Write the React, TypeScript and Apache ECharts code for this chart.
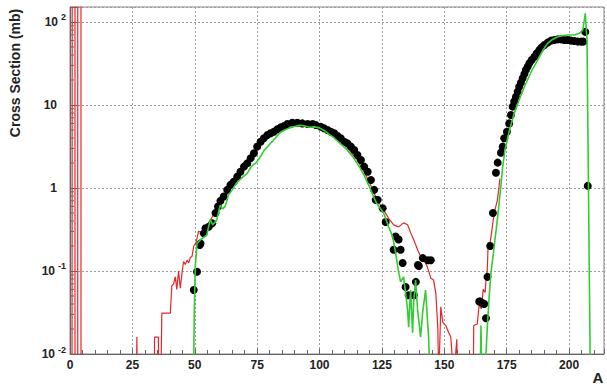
import React, { useEffect, useRef } from "react";
import * as echarts from "echarts";

// ---- data (A, cross section in mb) ----
const DOTS_LIGHT: [number, number][] = [
  [49.6, 0.059], [50.9, 0.098], [52.0, 0.206], [52.3, 0.215], [53.6, 0.284], [54.3, 0.327],
  [55.6, 0.342], [57.0, 0.375], [58.3, 0.5], [59.3, 0.6], [60.3, 0.7], [61.6, 0.79],
  [63.0, 0.95], [64.3, 1.09], [65.6, 1.19], [67.0, 1.37], [68.3, 1.57], [69.7, 1.81],
  [71.0, 1.98], [72.4, 2.28], [73.7, 2.62], [75.0, 3.15], [76.4, 3.61], [77.7, 3.97],
  [79.1, 4.35], [80.4, 4.56], [81.7, 4.77], [83.1, 5.1], [84.4, 5.38], [85.8, 5.58],
  [87.1, 5.9], [89.1, 6.12], [91.1, 6.12], [93.1, 6.0], [95.2, 5.9], [97.2, 5.9],
  [98.5, 5.74], [100.5, 5.48], [101.8, 5.24], [103.2, 5.0], [104.5, 4.77], [105.9, 4.56],
  [107.2, 4.24], [108.5, 3.97], [109.9, 3.61], [111.2, 3.45], [112.6, 3.15], [113.9, 2.87],
  [115.2, 2.5], [116.6, 2.17], [117.9, 1.81], [119.3, 1.57], [120.6, 1.25], [121.9, 0.95],
  [122.5, 0.72], [123.3, 0.72], [125.3, 0.57], [126.5, 0.39], [129.7, 0.18], [130.5, 0.26],
  [131.7, 0.24], [132.5, 0.18], [133.3, 0.125], [134.5, 0.064], [135.7, 0.051], [137.8, 0.051],
  [138.6, 0.074], [139.4, 0.118], [139.8, 0.115], [141.4, 0.143], [143.4, 0.135], [144.6, 0.135],
];

const DOTS_HEAVY: [number, number][] = [
  [164.0, 0.043], [164.4, 0.043], [165.3, 0.041], [166.0, 0.04], [166.7, 0.027], [167.3, 0.085],
  [168.4, 0.2], [169.5, 0.5], [170.7, 1.53], [171.4, 2.02], [172.7, 2.66], [173.4, 3.15],
  [174.0, 3.97], [175.1, 4.77], [176.0, 6.0], [176.7, 7.58], [177.4, 9.55], [178.0, 11],
  [178.7, 12.6], [179.4, 14.5], [180.0, 16.6], [180.7, 18.6], [181.4, 21], [182.1, 23.6],
  [182.7, 26.4], [183.4, 29], [184.1, 31.8], [185.0, 34.8], [186.1, 38.2], [187.0, 41.9],
  [188.1, 46], [189.0, 49.5], [190.1, 52.8], [191.4, 56.4], [192.8, 59.6], [194.1, 60.7],
  [195.5, 61.8], [196.8, 61.8], [198.1, 60.7], [199.5, 60.7], [200.8, 59.6], [202.1, 59],
  [203.5, 58], [204.8, 58], [205.7, 58], [206.5, 76], [207.5, 1.06],
];

const RED_CURVE: [number, number][] = [
  [0, 0.001], [0.8, 0.001], [0.9, 10000], [2.0, 10000], [2.0, 0.001], [3.1, 0.001],
  [3.1, 10000], [4.4, 10000], [4.4, 0.001], [26.4, 0.001], [26.8, 0.016], [27.2, 0.001],
  [33.6, 0.001], [33.9, 0.016], [35.4, 0.016], [35.8, 0.001], [36.4, 0.004], [36.8, 0.031],
  [40.2, 0.031], [40.8, 0.066], [41.5, 0.07], [42.2, 0.085], [42.8, 0.06], [43.5, 0.1],
  [44.2, 0.062], [44.8, 0.09], [45.5, 0.13], [46.2, 0.12], [46.9, 0.135], [47.6, 0.125],
  [48.2, 0.145], [48.9, 0.15], [49.6, 0.2], [50.5, 0.22], [51.5, 0.3], [53, 0.29],
  [55, 0.35], [57, 0.45], [59, 0.58], [61, 0.7], [63, 0.85], [65, 1.05], [67, 1.3],
  [69, 1.6], [71, 1.95], [73, 2.4], [75, 2.9], [77, 3.5], [79, 4.1], [81, 4.6], [83, 5.0],
  [85, 5.4], [87, 5.7], [89, 5.9], [91, 6.0], [93, 6.0], [95, 5.9], [97, 5.7], [99, 5.5],
  [101, 5.2], [103, 4.8], [105, 4.4], [107, 4.0], [109, 3.5], [111, 3.1], [113, 2.6],
  [115, 2.2], [117, 1.75], [119, 1.35], [121, 1.0], [123, 0.72], [125.3, 0.57],
  [127.7, 0.43], [129.7, 0.36], [131.7, 0.34], [133.7, 0.38], [135.3, 0.36], [136.5, 0.29],
  [137.7, 0.24], [139.3, 0.18], [140.5, 0.15], [141.7, 0.14], [143.3, 0.11], [144.6, 0.082],
  [145.7, 0.078], [146.6, 0.054], [147.4, 0.021], [147.8, 0.005], [148.6, 0.037], [149.4, 0.024],
  [150.6, 0.022], [151.8, 0.018], [152.6, 0.016], [153.8, 0.005], [155, 0.015], [155.8, 0.001],
  [161.4, 0.001], [161.8, 0.022], [163.2, 0.023], [164, 0.04], [164.8, 0.035], [165.6, 0.06],
  [166.4, 0.055], [166.8, 0.09], [167.2, 0.1], [167.6, 0.22], [168.2, 0.2], [169, 0.3],
  [170, 0.5], [171.3, 0.72], [172.3, 1.3],
];

const GREEN_CURVE: [number, number][] = [
  [49.4, 0.003], [49.8, 0.03], [50.2, 0.113], [50.9, 0.215], [52.5, 0.24], [54.8, 0.27],
  [56.2, 0.42], [57.2, 0.36], [58.8, 0.41], [60.2, 0.62], [61.2, 0.56], [62.2, 0.6],
  [63.5, 0.82], [65, 0.95], [66.5, 1.12], [68, 1.25], [69.5, 1.38], [71, 1.5], [72.5, 1.78],
  [73.5, 1.92], [74.5, 2.0], [75.5, 2.2], [76.5, 2.45], [78, 2.9], [79, 3.1], [80.5, 3.5],
  [82, 3.9], [84, 4.6], [86, 5.0], [88, 5.3], [90, 5.5], [92, 5.7], [94, 5.6], [96, 5.4],
  [98, 5.45], [100, 5.3], [102, 4.9], [104, 4.4], [105.5, 4.1], [108, 3.5], [111, 2.9],
  [113.5, 2.35], [116, 1.8], [118, 1.4], [120, 1.03], [122.8, 0.66], [125.7, 0.5],
  [127.7, 0.34], [129.3, 0.26], [130.5, 0.165], [131.7, 0.097], [132.5, 0.074], [133.7, 0.085],
  [135.3, 0.034], [135.7, 0.021], [136.5, 0.059], [137.3, 0.018], [137.7, 0.041], [138.5, 0.078],
  [139.3, 0.034], [140.5, 0.016], [141.3, 0.031], [142.5, 0.059], [143.7, 0.016], [144.5, 0.003],
  [164.3, 0.003], [164.7, 0.022], [165.1, 0.003], [166.5, 0.003], [166.7, 0.01], [167.3, 0.023],
  [168.0, 0.05], [168.7, 0.094], [170.0, 0.2], [171.4, 0.45], [172.6, 1.0], [173.4, 1.8],
  [174.3, 2.87], [176.0, 4.8], [178.0, 7.9], [180.0, 11.5], [182.1, 16.6], [184.8, 25],
  [187.4, 34.8], [189.4, 45], [191.4, 55.3], [193.5, 62], [195.5, 66.5], [197.5, 68.5],
  [199.5, 69.7], [202.1, 69.7], [204.1, 73], [205.5, 80], [206.0, 100], [206.5, 127],
  [207.2, 60], [208.6, 0.003],
];

// axis settings / tick values
const X_TICKS_STEP = 25;
const X_MAX = 214;
const Y_MIN = 0.01;
const Y_MAX = 151.6;
const Y_MINOR_TICKS = [
  0.02, 0.03, 0.04, 0.05, 0.06, 0.07, 0.08, 0.09,
  0.2, 0.3, 0.4, 0.5, 0.6, 0.7, 0.8, 0.9,
  2, 3, 4, 5, 6, 7, 8, 9,
  20, 30, 40, 50, 60, 70, 80, 90,
];

const FONT = "'Liberation Sans', Arial, Helvetica, sans-serif";

export default function App() {
  const ref = useRef<HTMLDivElement>(null);

  useEffect(() => {
    document.body.style.margin = "0";
    if (!ref.current) return;
    const chart = echarts.init(ref.current, null, { renderer: "svg" });

    const yLabel = (v: number) => {
      const lg = Math.log10(v);
      const e = Math.round(lg);
      if (Math.abs(lg - e) > 1e-6) return "";
      if (e === 0) return "{b|1}{p|}";
      if (e === 1) return "{b|10}{p|}";
      return "{b|10}{s|" + e + "}";
    };

    chart.setOption({
      animation: false,
      grid: {
        left: 70,
        right: 3,
        top: 7,
        bottom: 30,
        show: true,
        borderColor: "#888",
        borderWidth: 1,
      },
      xAxis: {
        type: "value",
        min: 0,
        max: X_MAX,
        interval: X_TICKS_STEP,
        axisLine: { show: true, lineStyle: { color: "#666" } },
        axisTick: { show: true, inside: true, length: 5, lineStyle: { color: "#666" } },
        minorTick: { show: true, splitNumber: 5, length: 4, lineStyle: { color: "#666" } },
        splitLine: { show: true, lineStyle: { type: [2, 2], color: "#999" } },
        axisLabel: {
          formatter: (v: number) => (v % X_TICKS_STEP === 0 ? String(v) : ""),
          fontFamily: FONT,
          fontWeight: "bold",
          fontSize: 12,
          color: "#222",
          margin: 5,
        },
      },
      yAxis: {
        type: "log",
        logBase: 10,
        min: Y_MIN,
        max: Y_MAX,
        axisLine: { show: true, lineStyle: { color: "#666" } },
        axisTick: { show: true, inside: true, length: 7, lineStyle: { color: "#666" } },
        splitLine: { show: true, lineStyle: { type: [2, 2], color: "#999" } },
        axisLabel: {
          formatter: yLabel,
          margin: 4,
          color: "#222",
          rich: {
            b: { fontFamily: FONT, fontWeight: "bold", fontSize: 12, color: "#222" },
            s: {
              fontFamily: FONT,
              fontWeight: "bold",
              fontSize: 9,
              color: "#222",
              padding: [0, 0, 9, 3],
            },
            p: { width: 9 },
          },
        },
      },
      graphic: [
        {
          type: "text",
          x: 15,
          y: 73,
          rotation: Math.PI / 2,
          style: {
            text: "Cross Section (mb)",
            font: "bold 14px " + FONT,
            fill: "#222",
            align: "center",
            verticalAlign: "middle",
          },
        },
        {
          type: "text",
          x: 598,
          y: 377,
          style: {
            text: "A",
            font: "bold 15px " + FONT,
            fill: "#222",
            align: "center",
            verticalAlign: "middle",
          },
        },
      ],
      series: [
        {
          type: "custom",
          silent: true,
          data: Y_MINOR_TICKS.map((v) => [0, v]),
          renderItem: (_params: any, api: any) => {
            const p = api.coord([api.value(0), api.value(1)]);
            return {
              type: "line",
              shape: { x1: p[0], y1: p[1], x2: p[0] + 4, y2: p[1] },
              style: { stroke: "#666", lineWidth: 1 },
            };
          },
          z: 1,
        },
        {
          type: "line",
          data: RED_CURVE,
          showSymbol: false,
          symbol: "none",
          lineStyle: { color: "#e5262a", width: 1.2 },
          silent: true,
          z: 2,
        },
        {
          type: "scatter",
          data: DOTS_LIGHT,
          symbol: "circle",
          symbolSize: 8,
          itemStyle: { color: "#000", opacity: 1 },
          silent: true,
          z: 3,
        },
        {
          type: "scatter",
          data: DOTS_HEAVY,
          symbol: "circle",
          symbolSize: 8,
          itemStyle: { color: "#000", opacity: 1 },
          silent: true,
          z: 3,
        },
        {
          type: "line",
          data: GREEN_CURVE,
          showSymbol: false,
          symbol: "none",
          lineStyle: { color: "#33cc33", width: 1.6 },
          silent: true,
          z: 4,
        },
      ],
    });

    return () => chart.dispose();
  }, []);

  return (
    <div
      ref={ref}
      style={{ position: "absolute", left: 0, top: 0, width: 607, height: 384 }}
    />
  );
}
